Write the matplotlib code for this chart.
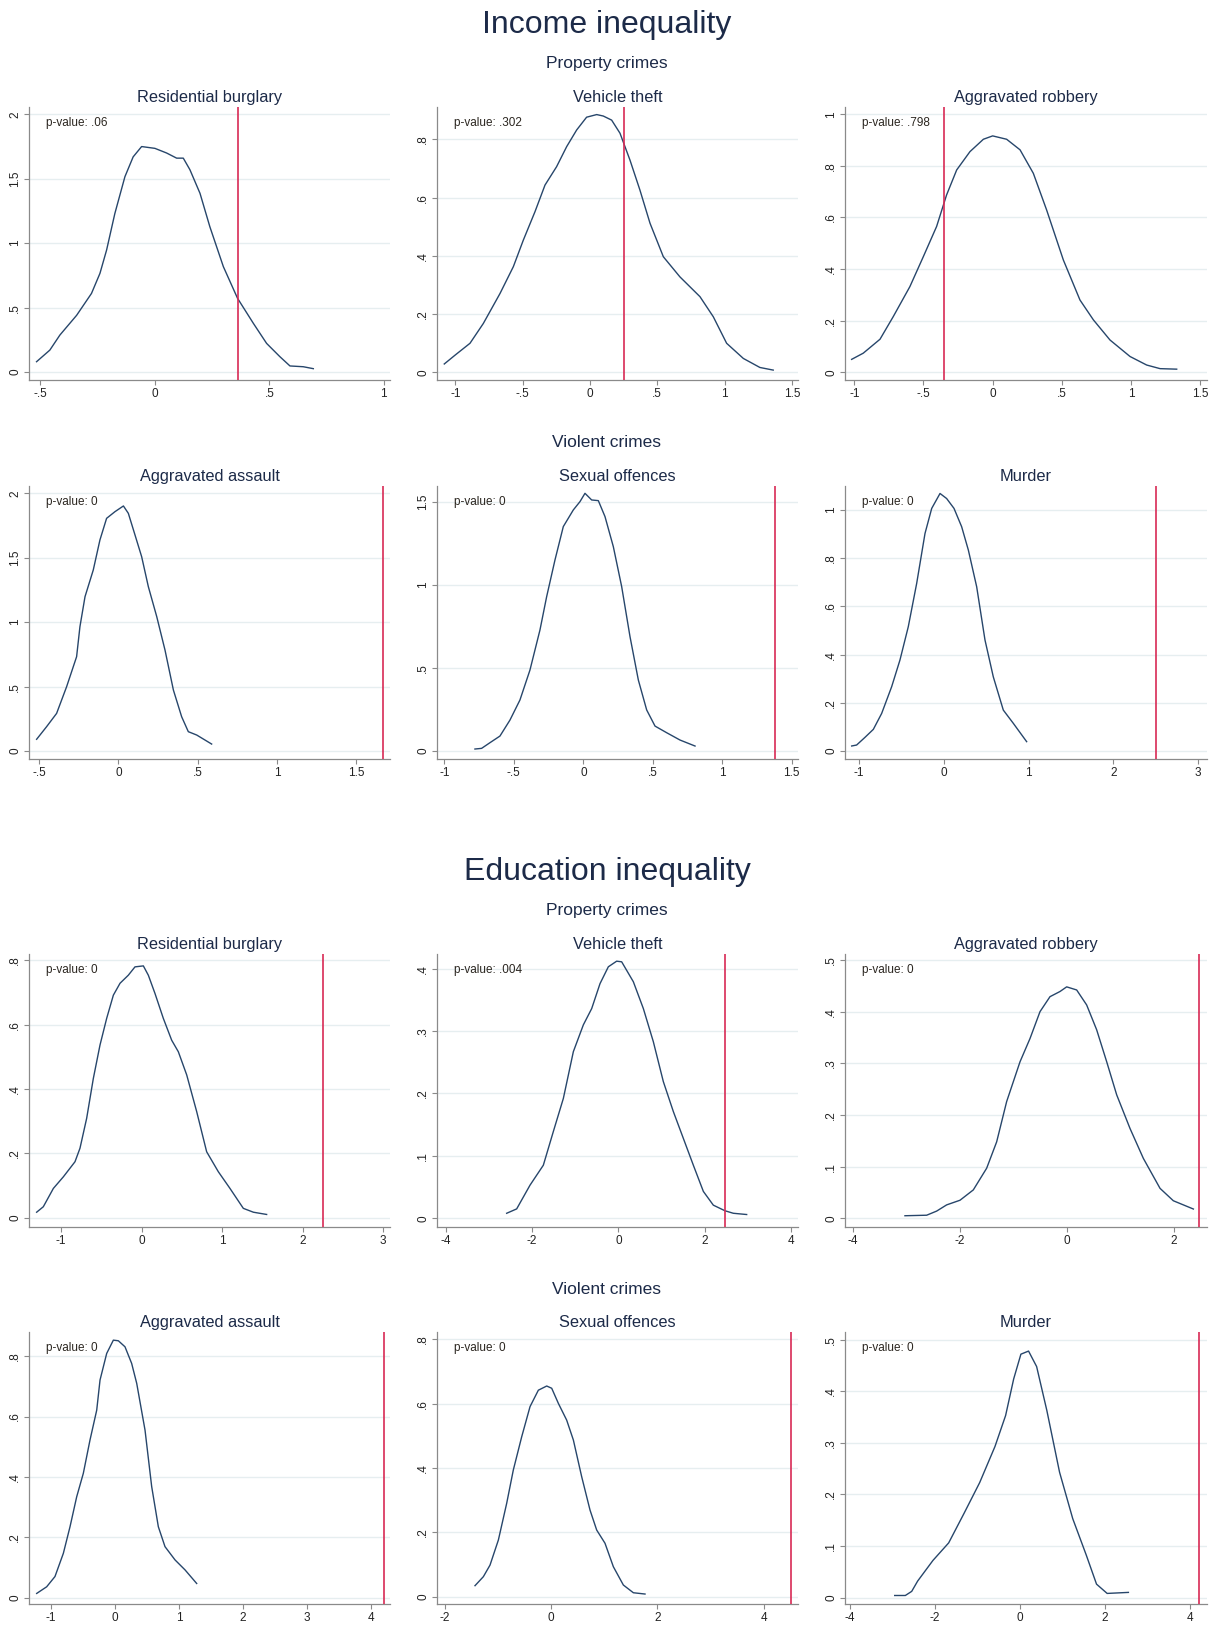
import matplotlib
matplotlib.use('Agg')
import matplotlib.pyplot as plt

plt.rcParams['font.family'] = ['Liberation Sans', 'DejaVu Sans']

# ---------------- data ----------------
section_titles = ["Income inequality", "Education inequality"]
group_titles = ["Property crimes", "Violent crimes"]
crime_titles = ["Residential burglary", "Vehicle theft", "Aggravated robbery",
                "Aggravated assault", "Sexual offences", "Murder"]

# Income inequality
inc_burglary_x = [-0.517, -0.459, -0.415, -0.342, -0.277, -0.240, -0.211, -0.175, -0.131, -0.095, -0.058, 0.0, 0.051, 0.095, 0.124, 0.153, 0.197, 0.240, 0.299, 0.361, 0.430, 0.488, 0.546, 0.590, 0.648, 0.692]
inc_burglary_y = [0.08, 0.17, 0.287, 0.44, 0.61, 0.766, 0.947, 1.23, 1.516, 1.67, 1.75, 1.736, 1.70, 1.66, 1.66, 1.57, 1.387, 1.128, 0.818, 0.572, 0.378, 0.222, 0.119, 0.047, 0.041, 0.026]

inc_vehicle_x = [-1.082, -1.0, -0.891, -0.792, -0.668, -0.569, -0.495, -0.408, -0.334, -0.248, -0.173, -0.099, -0.025, 0.050, 0.099, 0.161, 0.223, 0.297, 0.371, 0.446, 0.545, 0.668, 0.817, 0.916, 1.015, 1.139, 1.262, 1.361]
inc_vehicle_y = [0.029, 0.06, 0.10, 0.168, 0.271, 0.363, 0.454, 0.552, 0.643, 0.706, 0.775, 0.832, 0.876, 0.885, 0.880, 0.866, 0.821, 0.729, 0.626, 0.512, 0.397, 0.328, 0.260, 0.191, 0.10, 0.048, 0.017, 0.008]

inc_robbery_x = [-1.019, -0.935, -0.814, -0.718, -0.598, -0.501, -0.405, -0.333, -0.260, -0.164, -0.067, 0.0, 0.101, 0.198, 0.294, 0.390, 0.511, 0.631, 0.728, 0.848, 0.993, 1.113, 1.210, 1.330]
inc_robbery_y = [0.050, 0.074, 0.128, 0.216, 0.332, 0.448, 0.565, 0.687, 0.784, 0.855, 0.903, 0.916, 0.903, 0.862, 0.771, 0.629, 0.435, 0.280, 0.203, 0.125, 0.061, 0.028, 0.014, 0.012]

inc_assault_x = [-0.515, -0.452, -0.389, -0.326, -0.263, -0.242, -0.210, -0.158, -0.116, -0.074, -0.021, 0.032, 0.063, 0.105, 0.147, 0.189, 0.242, 0.294, 0.347, 0.399, 0.441, 0.494, 0.588]
inc_assault_y = [0.091, 0.189, 0.292, 0.499, 0.732, 0.965, 1.198, 1.405, 1.638, 1.806, 1.858, 1.902, 1.845, 1.677, 1.508, 1.276, 1.043, 0.784, 0.473, 0.266, 0.150, 0.124, 0.054]

inc_sexual_x = [-0.780, -0.732, -0.672, -0.600, -0.528, -0.456, -0.384, -0.312, -0.264, -0.204, -0.144, -0.072, -0.024, 0.012, 0.060, 0.108, 0.156, 0.216, 0.276, 0.336, 0.396, 0.456, 0.516, 0.600, 0.696, 0.804]
inc_sexual_y = [0.012, 0.016, 0.050, 0.090, 0.186, 0.307, 0.487, 0.728, 0.928, 1.149, 1.350, 1.450, 1.500, 1.550, 1.510, 1.506, 1.410, 1.229, 0.989, 0.688, 0.427, 0.247, 0.150, 0.110, 0.066, 0.030]

inc_murder_x = [-1.084, -1.026, -0.927, -0.829, -0.731, -0.613, -0.515, -0.417, -0.318, -0.220, -0.141, -0.043, 0.035, 0.122, 0.212, 0.291, 0.389, 0.487, 0.585, 0.703, 0.821, 0.978]
inc_murder_y = [0.021, 0.025, 0.057, 0.090, 0.156, 0.267, 0.378, 0.516, 0.696, 0.903, 1.007, 1.069, 1.048, 1.007, 0.931, 0.834, 0.682, 0.461, 0.308, 0.170, 0.115, 0.039]

# Education inequality
edu_burglary_x = [-1.306, -1.223, -1.098, -0.974, -0.829, -0.767, -0.684, -0.601, -0.518, -0.435, -0.352, -0.269, -0.166, -0.083, 0.021, 0.083, 0.166, 0.269, 0.373, 0.456, 0.560, 0.684, 0.808, 0.953, 1.098, 1.264, 1.389, 1.554]
edu_burglary_y = [0.017, 0.034, 0.091, 0.127, 0.174, 0.216, 0.309, 0.433, 0.537, 0.620, 0.692, 0.729, 0.754, 0.780, 0.783, 0.754, 0.697, 0.620, 0.552, 0.516, 0.444, 0.330, 0.205, 0.143, 0.091, 0.029, 0.017, 0.010]

edu_vehicle_x = [-2.589, -2.357, -2.048, -1.739, -1.507, -1.275, -1.043, -0.811, -0.618, -0.425, -0.232, -0.039, 0.077, 0.348, 0.580, 0.811, 1.043, 1.275, 1.507, 1.739, 1.971, 2.202, 2.473, 2.666, 2.975]
edu_vehicle_y = [0.008, 0.015, 0.053, 0.085, 0.139, 0.192, 0.267, 0.310, 0.336, 0.376, 0.403, 0.412, 0.411, 0.379, 0.336, 0.283, 0.219, 0.171, 0.128, 0.085, 0.043, 0.021, 0.012, 0.008, 0.006]

edu_robbery_x = [-3.026, -2.620, -2.433, -2.246, -1.996, -1.747, -1.497, -1.310, -1.123, -0.873, -0.686, -0.499, -0.312, -0.125, 0.0, 0.187, 0.374, 0.561, 0.749, 0.936, 1.185, 1.435, 1.747, 1.996, 2.371]
edu_robbery_y = [0.005, 0.006, 0.014, 0.026, 0.035, 0.055, 0.097, 0.148, 0.226, 0.303, 0.348, 0.400, 0.429, 0.439, 0.448, 0.442, 0.413, 0.365, 0.303, 0.239, 0.174, 0.116, 0.058, 0.034, 0.018]

edu_assault_x = [-1.224, -1.068, -0.938, -0.807, -0.703, -0.599, -0.495, -0.391, -0.286, -0.234, -0.130, -0.026, 0.052, 0.156, 0.260, 0.339, 0.469, 0.573, 0.677, 0.781, 0.938, 1.094, 1.276]
edu_assault_y = [0.014, 0.036, 0.070, 0.147, 0.235, 0.334, 0.412, 0.522, 0.621, 0.721, 0.809, 0.853, 0.851, 0.831, 0.776, 0.710, 0.555, 0.368, 0.235, 0.169, 0.125, 0.092, 0.047]

edu_sexual_x = [-1.428, -1.271, -1.146, -0.989, -0.833, -0.708, -0.551, -0.394, -0.238, -0.081, 0.013, 0.138, 0.294, 0.420, 0.576, 0.733, 0.858, 1.014, 1.171, 1.359, 1.547, 1.766]
edu_sexual_y = [0.034, 0.062, 0.098, 0.176, 0.290, 0.394, 0.497, 0.591, 0.642, 0.655, 0.648, 0.601, 0.549, 0.487, 0.373, 0.269, 0.207, 0.166, 0.093, 0.036, 0.012, 0.008]

edu_murder_x = [-2.95, -2.70, -2.55, -2.41, -2.05, -1.68, -1.32, -0.95, -0.59, -0.34, -0.15, 0.02, 0.20, 0.39, 0.63, 0.93, 1.24, 1.56, 1.80, 2.05, 2.55]
edu_murder_y = [0.004, 0.004, 0.012, 0.032, 0.072, 0.106, 0.163, 0.223, 0.293, 0.353, 0.424, 0.472, 0.478, 0.448, 0.363, 0.243, 0.153, 0.082, 0.026, 0.008, 0.010]

observed_income = [0.364, 0.255, -0.352, 1.670, 1.380, 2.503]
observed_education = [2.251, 2.473, 2.483, 4.203, 4.508, 4.22]
pvalues_income = ["p-value: .06", "p-value: .302", "p-value: .798", "p-value: 0", "p-value: 0", "p-value: 0"]
pvalues_education = ["p-value: 0", "p-value: .004", "p-value: 0", "p-value: 0", "p-value: 0", "p-value: 0"]

xticks_income = [[-0.5, 0, 0.5, 1], [-1, -0.5, 0, 0.5, 1, 1.5], [-1, -0.5, 0, 0.5, 1, 1.5],
                 [-0.5, 0, 0.5, 1, 1.5], [-1, -0.5, 0, 0.5, 1, 1.5], [-1, 0, 1, 2, 3]]
yticks_income = [[0, 0.5, 1, 1.5, 2], [0, 0.2, 0.4, 0.6, 0.8], [0, 0.2, 0.4, 0.6, 0.8, 1],
                 [0, 0.5, 1, 1.5, 2], [0, 0.5, 1, 1.5], [0, 0.2, 0.4, 0.6, 0.8, 1]]
xticks_education = [[-1, 0, 1, 2, 3], [-4, -2, 0, 2, 4], [-4, -2, 0, 2],
                    [-1, 0, 1, 2, 3, 4], [-2, 0, 2, 4], [-4, -2, 0, 2, 4]]
yticks_education = [[0, 0.2, 0.4, 0.6, 0.8], [0, 0.1, 0.2, 0.3, 0.4], [0, 0.1, 0.2, 0.3, 0.4, 0.5],
                    [0, 0.2, 0.4, 0.6, 0.8], [0, 0.2, 0.4, 0.6, 0.8], [0, 0.1, 0.2, 0.3, 0.4, 0.5]]

# axis ranges (layout)
xlims_income = [(-0.550, 1.027), (-1.136, 1.545), (-1.067, 1.549), (-0.563, 1.712), (-1.053, 1.545), (-1.163, 3.104)]
ylims_income = [(-0.062, 2.057), (-0.026, 0.911), (-0.030, 1.028), (-0.062, 2.057), (-0.048, 1.594), (-0.033, 1.100)]
xlims_education = [(-1.401, 3.088), (-4.204, 4.165), (-4.148, 2.626), (-1.344, 4.297), (-2.142, 4.640), (-4.12, 4.40)]
ylims_education = [(-0.029, 0.820), (-0.014, 0.4235), (-0.0168, 0.5116), (-0.021, 0.880), (-0.023, 0.823), (-0.0125, 0.515)]

curves_income = [(inc_burglary_x, inc_burglary_y), (inc_vehicle_x, inc_vehicle_y), (inc_robbery_x, inc_robbery_y),
                 (inc_assault_x, inc_assault_y), (inc_sexual_x, inc_sexual_y), (inc_murder_x, inc_murder_y)]
curves_education = [(edu_burglary_x, edu_burglary_y), (edu_vehicle_x, edu_vehicle_y), (edu_robbery_x, edu_robbery_y),
                    (edu_assault_x, edu_assault_y), (edu_sexual_x, edu_sexual_y), (edu_murder_x, edu_murder_y)]

# ---------------- styling ----------------
W, H, DPI = 1214, 1625, 100
TITLE_C = '#1c2a48'
LINE_C = '#27466b'
RED_C = '#d82a55'
GRID_C = '#e6eef0'
AXIS_C = '#8a8a8a'
TEXT_C = '#222222'

col_x = [(29, 390), (437, 798), (845, 1207)]
row_y = [(107, 380), (486, 759), (954, 1227), (1332, 1604)]


def stata_fmt(v):
    s = '%g' % v
    if s.startswith('0.'):
        s = s[1:]
    elif s.startswith('-0.'):
        s = '-' + s[2:]
    return s


fig = plt.figure(figsize=(W / DPI, H / DPI), dpi=DPI)
fig.patch.set_facecolor('white')


def ftext(xpx, ypx, s, size):
    fig.text(xpx / W, 1 - ypx / H, s, ha='center', va='baseline', fontsize=size, color=TITLE_C)


ftext(607, 33, section_titles[0], 23)
ftext(607, 68, group_titles[0], 12.5)
ftext(607, 447, group_titles[1], 12.5)
ftext(607, 880, section_titles[1], 23)
ftext(607, 915, group_titles[0], 12.5)
ftext(607, 1294, group_titles[1], 12.5)

blocks = [
    (0, curves_income, observed_income, pvalues_income, xticks_income, yticks_income, xlims_income, ylims_income),
    (2, curves_education, observed_education, pvalues_education, xticks_education, yticks_education, xlims_education, ylims_education),
]

for row0, curves, obs, pvals, xts, yts, xls, yls in blocks:
    for i in range(6):
        r = row0 + i // 3
        c = i % 3
        L, R = col_x[c]
        T, B = row_y[r]
        ax = fig.add_axes([L / W, 1 - B / H, (R - L) / W, (B - T) / H])
        x, y = curves[i]
        ax.plot(x, y, color=LINE_C, lw=1.0, solid_joinstyle='round', zorder=3)
        ax.axvline(obs[i], color=RED_C, lw=1.2, zorder=4)
        ax.set_xlim(*xls[i])
        ax.set_ylim(*yls[i])
        ax.set_xticks(xts[i])
        ax.set_xticklabels([stata_fmt(v) for v in xts[i]])
        ax.set_yticks(yts[i])
        ax.set_yticklabels([stata_fmt(v) for v in yts[i]], rotation=90, va='center')
        ax.grid(axis='y', color=GRID_C, lw=1.0)
        ax.set_axisbelow(True)
        for sp in ['top', 'right']:
            ax.spines[sp].set_visible(False)
        for sp in ['left', 'bottom']:
            ax.spines[sp].set_color(AXIS_C)
            ax.spines[sp].set_linewidth(0.9)
        ax.tick_params(direction='out', length=3.5, width=0.8, color=AXIS_C,
                       labelsize=8.5, labelcolor=TEXT_C, pad=2)
        ax.set_title(crime_titles[i], fontsize=11.8, color=TITLE_C, pad=3.3)
        ax.text(17 / (R - L), 1 - 16 / (B - T), pvals[i], transform=ax.transAxes,
                ha='left', va='center', fontsize=8.5, color='#2b2620')

fig.savefig('out.png', dpi=DPI, facecolor='white')
